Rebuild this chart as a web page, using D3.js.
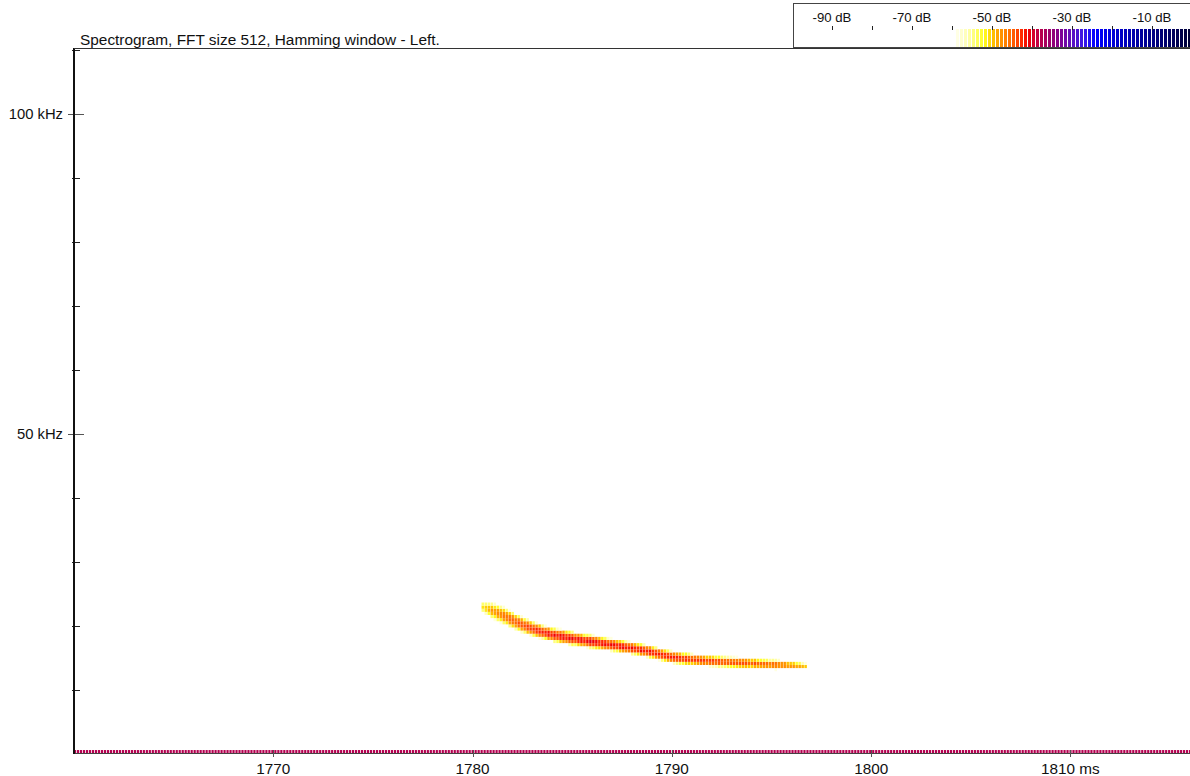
<!DOCTYPE html>
<html><head><meta charset="utf-8">
<script src="https://cdn.jsdelivr.net/npm/d3@7/dist/d3.min.js"></script>
<style>
html,body{margin:0;padding:0;background:#fff;}
svg{display:block;font-family:Arial,"Liberation Sans",sans-serif;}
</style></head><body>
<svg id="chart" width="1190" height="776"></svg>
<script>
// ---------- data ----------
const title = "Spectrogram, FFT size 512, Hamming window - Left.";
const timeDomain = [1760, 1816];          // ms
const freqDomain = [0, 110.3];            // kHz
const xTickValues = [1770, 1780, 1790, 1800, 1810];
const xTickLabels = ["1770", "1780", "1790", "1800", "1810 ms"];
const yMajorTicks = [50, 100];
const yMajorLabels = ["50 kHz", "100 kHz"];
const yMinorTicks = [10, 20, 30, 40, 60, 70, 80, 90, 110];
const legendDomain = [-99.75, -0.5];
const legendTicks = [-90, -80, -70, -60, -50, -40, -30, -20, -10];
const legendLabelValues = [-90, -70, -50, -30, -10];
const colorStopsDb = [-60, -56, -52, -50, -48, -45, -42.5, -41, -39, -36, -33, -30, -27, -24, -18, -12, -6, 0];
const colorStops = ["#ffffff", "#ffffb0", "#ffff20", "#ffc800", "#ff9800", "#ff6400", "#ff2800", "#f00000",
                    "#c8003c", "#a00064", "#800090", "#5c10c0", "#3a18e8", "#0000ff", "#0000c8", "#000098", "#000068", "#000030"];
const frameStart = 1780.45;   // ms, first frame of the call
const frameStep = 0.15;       // ms between frames
const binKHz = 0.488;         // FFT bin height
const dcDb = -37.5;           // level of the DC row
const dcTopKHz = 0.62;        // height of the DC row
const ridgeFreq = [
  22.95,22.78,22.6,22.42,22.23,22.02,21.81,21.6,21.36,21.12,
  20.88,20.66,20.45,20.24,20.04,19.86,19.68,19.5,19.35,19.2,
  19.05,18.92,18.8,18.68,18.57,18.48,18.39,18.3,18.21,18.12,
  18.03,17.95,17.87,17.8,17.72,17.65,17.57,17.5,17.42,17.35,
  17.27,17.2,17.12,17.05,16.97,16.9,16.82,16.75,16.67,16.6,
  16.52,16.44,16.35,16.26,16.17,16.06,15.96,15.85,15.73,15.61,
  15.49,15.38,15.28,15.17,15.08,15.02,14.96,14.9,14.86,14.81,
  14.77,14.72,14.68,14.63,14.59,14.56,14.53,14.5,14.47,14.44,
  14.41,14.38,14.35,14.32,14.29,14.27,14.24,14.22,14.2,14.18,
  14.16,14.13,14.1,14.07,14.04,14.02,13.99,13.97,13.95,13.93,
  13.91,13.89,13.86,13.84,13.82,13.8,13.77,13.75,13.72];
const ridgeDb = [
  -51,-50,-49,-48,-48,-47,-47,-46,-46,-45,
  -45,-45,-44,-44,-44,-43,-43,-43,-42,-42,
  -42,-42,-41,-42,-41,-42,-41,-41,-42,-41,
  -41,-42,-41,-41,-42,-41,-40,-41,-41,-42,
  -41,-41,-42,-41,-41,-42,-41,-41,-42,-42,
  -41,-42,-42,-41,-42,-42,-41,-42,-42,-42,
  -42,-42,-42,-42,-42,-42,-42,-43,-42,-43,
  -43,-43,-43,-43,-43,-44,-43,-43,-44,-43,
  -44,-44,-44,-44,-44,-44,-44,-44,-44,-45,
  -45,-44,-45,-45,-45,-45,-46,-45,-45,-46,
  -46,-46,-47,-47,-47,-48,-48,-49,-50];
const ridgeHalfWidth = [
  0.9,1.05,1.15,1.25,1.3,1.3,1.3,1.3,1.25,1.2,
  1.2,1.15,1.1,1.1,1.05,1.05,1.0,1.0,0.95,0.95,
  0.9,0.9,0.9,0.9,0.9,0.9,0.9,0.9,0.9,0.9,
  0.9,0.85,0.85,0.85,0.85,0.85,0.85,0.85,0.85,0.85,
  0.8,0.8,0.8,0.8,0.8,0.8,0.8,0.8,0.8,0.8,
  0.8,0.8,0.8,0.8,0.8,0.8,0.8,0.8,0.8,0.8,
  0.8,0.8,0.8,0.8,0.8,0.8,0.8,0.8,0.8,0.8,
  0.75,0.75,0.75,0.75,0.75,0.75,0.75,0.75,0.75,0.75,
  0.75,0.75,0.75,0.75,0.75,0.75,0.75,0.75,0.75,0.75,
  0.7,0.7,0.7,0.7,0.7,0.7,0.7,0.7,0.7,0.7,
  0.65,0.65,0.6,0.6,0.6,0.55,0.55,0.5,0.5];

// ---------- layout ----------
const plot = {left: 74, right: 1190, top: 48, bottom: 754};
const svg = d3.select("#chart");

const x = d3.scaleLinear().domain(timeDomain).range([plot.left, plot.right]);
const y = d3.scaleLinear().domain(freqDomain).range([plot.bottom, plot.top]);
const color = d3.scaleLinear().domain(colorStopsDb).range(colorStops).clamp(true);
const lx = d3.scaleLinear().domain(legendDomain).range([793, 1190]);

// ---------- spectrogram cells ----------
const cells = [];
ridgeFreq.forEach((f, i) => {
  const t = frameStart + i * frameStep;
  const hw = ridgeHalfWidth[i];
  const k0 = Math.floor((f - hw * 1.3) / binKHz), k1 = Math.ceil((f + hw * 1.3) / binKHz);
  for (let k = k0; k <= k1; k++) {
    const fc = k * binKHz;
    const d = Math.abs(fc - f) / hw;
    const db = ridgeDb[i] - 11 * d * d;
    if (db > -58.5) cells.push({t, f0: fc - binKHz / 2, f1: fc + binKHz / 2, db});
  }
});
const dcFrames = d3.range(timeDomain[0], timeDomain[1], frameStep);
const dcCells = dcFrames.map(t => ({t, f0: 0, f1: dcTopKHz, db: dcDb}));

const g = svg.append("g");
g.selectAll("rect.dc").data(dcCells).join("rect").attr("class", "dc")
  .attr("x", d => x(d.t)).attr("width", d => x(d.t + frameStep) - x(d.t) - 0.8)
  .attr("y", d => y(d.f1)).attr("height", d => y(d.f0) - y(d.f1))
  .attr("fill", d => color(d.db));
g.selectAll("rect.cell").data(cells).join("rect").attr("class", "cell")
  .attr("x", d => x(d.t)).attr("width", d => x(d.t + frameStep) - x(d.t) - 0.5)
  .attr("y", d => y(d.f1)).attr("height", d => y(d.f0) - y(d.f1))
  .attr("fill", d => color(d.db));

// ---------- frame / axes ----------
svg.append("line").attr("x1", plot.left).attr("x2", plot.right).attr("y1", 753.5).attr("y2", 753.5)
  .attr("stroke", "#444").attr("stroke-width", 1);

// y axis
const yAxis = svg.append("g");
yAxis.selectAll("line.maj").data(yMajorTicks).join("line")
  .attr("x1", 68).attr("x2", 84).attr("y1", d => Math.round(y(d)) + 0.5).attr("y2", d => Math.round(y(d)) + 0.5)
  .attr("stroke", "#555");
yAxis.selectAll("line.min").data(yMinorTicks).join("line")
  .attr("x1", 72).attr("x2", 80).attr("y1", d => Math.round(y(d)) + 0.5).attr("y2", d => Math.round(y(d)) + 0.5)
  .attr("stroke", "#222");
yAxis.selectAll("text").data(yMajorTicks).join("text")
  .attr("x", 63).attr("y", d => y(d)).attr("dy", "0.36em")
  .attr("text-anchor", "end").attr("font-size", 14.8).attr("fill", "#111")
  .text((d, i) => yMajorLabels[i]);
svg.append("line").attr("x1", 74).attr("x2", 74).attr("y1", 48).attr("y2", 754)
  .attr("stroke", "#111").attr("stroke-width", 2);

// x axis
const xAxis = svg.append("g");
xAxis.selectAll("line").data(xTickValues).join("line")
  .attr("x1", d => Math.round(x(d)) + 0.5).attr("x2", d => Math.round(x(d)) + 0.5)
  .attr("y1", 750).attr("y2", 757).attr("stroke", "#555");
xAxis.selectAll("text").data(xTickValues).join("text")
  .attr("x", d => x(d)).attr("y", 773.5).attr("text-anchor", "middle")
  .attr("font-size", 15.3).attr("fill", "#111")
  .text((d, i) => xTickLabels[i]);

// title
svg.append("text").attr("x", 80).attr("y", 45).attr("font-size", 15.4).attr("fill", "#111").text(title);

// ---------- legend ----------
const leg = svg.append("g");
leg.append("rect").attr("x", 793.5).attr("y", 3.5).attr("width", 420).attr("height", 44)
  .attr("fill", "#fff").attr("stroke", "#444");
const barX = d3.range(956, 1190, 4);
leg.selectAll("rect.bar").data(barX).join("rect").attr("class", "bar")
  .attr("x", d => d).attr("width", 3).attr("y", 29).attr("height", 18)
  .attr("fill", d => color(lx.invert(d + 1.5)));
leg.selectAll("line.t").data(legendTicks).join("line").attr("class", "t")
  .attr("x1", d => Math.round(lx(d)) + 0.5).attr("x2", d => Math.round(lx(d)) + 0.5)
  .attr("y1", 26).attr("y2", 30).attr("stroke", "#222");
leg.selectAll("text").data(legendLabelValues).join("text")
  .attr("x", d => lx(d)).attr("y", 21.5).attr("text-anchor", "middle")
  .attr("font-size", 13.2).attr("fill", "#111")
  .text(d => d + " dB");
svg.append("line").attr("x1", plot.left).attr("x2", plot.right).attr("y1", 48.5).attr("y2", 48.5)
  .attr("stroke", "#333");
</script>
</body></html>
